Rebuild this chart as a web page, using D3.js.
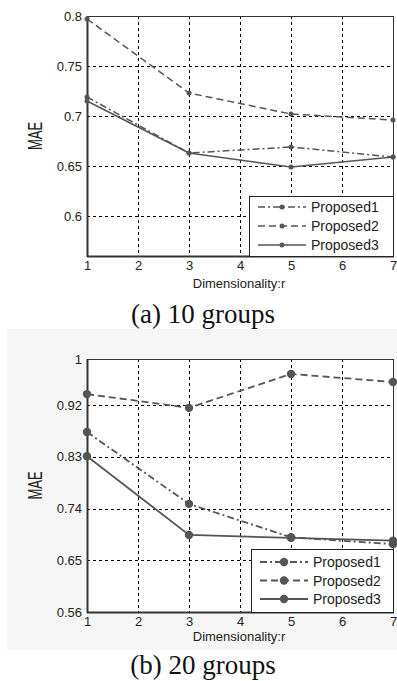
<!DOCTYPE html>
<html><head><meta charset="utf-8">
<script src="https://cdn.jsdelivr.net/npm/d3@7"></script>
<style>body{margin:0;background:#fff}svg{display:block}</style>
</head><body>
<script>
const xs = [1, 3, 5, 7];
const xTicks = [1, 2, 3, 4, 5, 6, 7];
const seriesNames = ["Proposed1", "Proposed2", "Proposed3"];
// (a) 10 groups
const a_p1 = [0.719, 0.663, 0.669, 0.659];
const a_p2 = [0.797, 0.723, 0.702, 0.696];
const a_p3 = [0.715, 0.663, 0.649, 0.659];
const a_yTicks = [0.6, 0.65, 0.7, 0.75, 0.8];
const a_yLabels = ["0.6", "0.65", "0.7", "0.75", "0.8"];
// (b) 20 groups
const b_p1 = [0.873, 0.748, 0.690, 0.678];
const b_p2 = [0.939, 0.915, 0.974, 0.960];
const b_p3 = [0.831, 0.694, 0.689, 0.684];
const b_yTicks = [0.56, 0.65, 0.74, 0.83, 0.92, 1];
const b_yLabels = ["0.56", "0.65", "0.74", "0.83", "0.92", "1"];

const W = 397, H = 681;
const svg = d3.select("body").append("svg").attr("width", W).attr("height", H);
const dashes = ["7,3,2,3", "7,4", null];
const SANS = "Liberation Sans, Arial, sans-serif";

svg.append("rect").attr("x", 7).attr("y", 329).attr("width", W - 7).attr("height", 321).attr("fill", "#f6f6f6");

function panel(cfg) {
  const g = svg.append("g");
  const x = d3.scaleLinear().domain([1, 7]).range([cfg.left, cfg.right]);
  const y = d3.scaleLinear().domain(cfg.yDomain).range([cfg.bottom, cfg.top]);
  g.append("rect").attr("x", cfg.left).attr("y", cfg.top)
    .attr("width", cfg.right - cfg.left).attr("height", cfg.bottom - cfg.top)
    .attr("fill", "#fff");
  // grid
  g.selectAll(".vg").data(xTicks.filter(t => t > 1 && t < 7)).join("line")
    .attr("x1", d => Math.round(x(d)) + 0.5).attr("x2", d => Math.round(x(d)) + 0.5).attr("y1", cfg.top).attr("y2", cfg.bottom)
    .attr("stroke", "#000").attr("stroke-width", 1).attr("stroke-dasharray", "3,3");
  g.selectAll(".hg").data(cfg.yTicks.filter(t => t > cfg.yDomain[0] && t < cfg.yDomain[1])).join("line")
    .attr("y1", d => Math.round(y(d)) + 0.5).attr("y2", d => Math.round(y(d)) + 0.5).attr("x1", cfg.left).attr("x2", cfg.right)
    .attr("stroke", "#000").attr("stroke-width", 1).attr("stroke-dasharray", "3,3");
  // axes
  const ya = d3.axisLeft(y).tickValues(cfg.yTicks).tickFormat((d, i) => cfg.yLabels[i]).tickSize(0).tickPadding(5);
  const yg = g.append("g").attr("transform", `translate(${cfg.left},0)`).call(ya);
  const xa = d3.axisBottom(x).tickValues(xTicks).tickFormat(d3.format("d")).tickSize(0).tickPadding(5);
  const xg = g.append("g").attr("transform", `translate(0,${cfg.bottom})`).call(xa);
  [yg, xg].forEach(a => {
    a.select(".domain").remove();
    a.selectAll("text").attr("font-family", SANS).attr("font-size", 13).attr("fill", "#222");
  });
  // frame
  g.append("rect").attr("x", cfg.left + 0.5).attr("y", cfg.top + 0.5)
    .attr("width", cfg.right - cfg.left).attr("height", cfg.bottom - cfg.top)
    .attr("fill", "none").attr("stroke", "#333").attr("stroke-width", 1);
  g.append("line").attr("x1", cfg.left + 0.5).attr("x2", cfg.left + 0.5).attr("y1", cfg.top).attr("y2", cfg.bottom + 1).attr("stroke", "#333").attr("stroke-width", 2);
  g.append("line").attr("x1", cfg.left).attr("x2", cfg.right + 1).attr("y1", cfg.bottom + 0.5).attr("y2", cfg.bottom + 0.5).attr("stroke", "#333").attr("stroke-width", 2);
  // series
  const line = d3.line().x((d, i) => x(xs[i])).y(d => y(d));
  cfg.series.forEach((s, k) => {
    g.append("path").attr("d", line(s)).attr("fill", "none").attr("stroke", "#555")
      .attr("stroke-width", cfg.lw).attr("stroke-dasharray", dashes[k]);
    g.selectAll(null).data(s).join("circle").attr("cx", (d, i) => x(xs[i])).attr("cy", d => y(d))
      .attr("r", cfg.mr).attr("fill", "#555");
  });
  // labels
  g.append("text").attr("transform", `translate(42,${(cfg.top + cfg.bottom) / 2}) rotate(-90) scale(1,1.55)`)
    .attr("text-anchor", "middle").attr("font-family", SANS)
    .attr("font-size", 13).attr("fill", "#222").text("MAE");
  g.append("text").attr("x", 239).attr("y", cfg.bottom + cfg.xlabOff).attr("text-anchor", "middle")
    .attr("font-family", SANS).attr("font-size", 13).attr("fill", "#222")
    .text("Dimensionality:r");
  g.append("text").attr("x", 203).attr("y", cfg.capY).attr("text-anchor", "middle")
    .attr("font-family", "Liberation Serif, Times New Roman, serif").attr("font-size", 27).attr("fill", "#111")
    .text(cfg.caption);
  // legend
  const L = cfg.legend;
  g.append("rect").attr("x", L.x + 0.5).attr("y", L.y + 0.5).attr("width", cfg.right - L.x).attr("height", cfg.bottom - L.y)
    .attr("fill", "#fff").attr("stroke", "#222").attr("stroke-width", 1);
  seriesNames.forEach((n, k) => {
    const yy = L.y + L.first + k * L.step;
    g.append("line").attr("x1", L.x + 9).attr("x2", L.x + 57).attr("y1", yy).attr("y2", yy)
      .attr("stroke", "#555").attr("stroke-width", cfg.lw).attr("stroke-dasharray", dashes[k]);
    g.append("circle").attr("cx", L.x + 33).attr("cy", yy).attr("r", cfg.mr).attr("fill", "#555");
    g.append("text").attr("x", L.x + 62).attr("y", yy + 5).attr("font-family", SANS)
      .attr("font-size", 14).attr("fill", "#222").text(n);
  });
}

panel({left: 87, right: 393, top: 16, bottom: 256, yDomain: [0.56, 0.8], yTicks: a_yTicks, yLabels: a_yLabels,
  series: [a_p1, a_p2, a_p3], lw: 1.5, mr: 2.5, caption: "(a) 10 groups", capY: 323, xlabOff: 32,
  legend: {x: 249, y: 196, first: 11, step: 19}});
panel({left: 87, right: 393, top: 359, bottom: 612, yDomain: [0.56, 1], yTicks: b_yTicks, yLabels: b_yLabels,
  series: [b_p1, b_p2, b_p3], lw: 1.8, mr: 4.2, caption: "(b) 20 groups", capY: 674, xlabOff: 29,
  legend: {x: 251, y: 549, first: 13, step: 18.5}});
</script>
</body></html>
